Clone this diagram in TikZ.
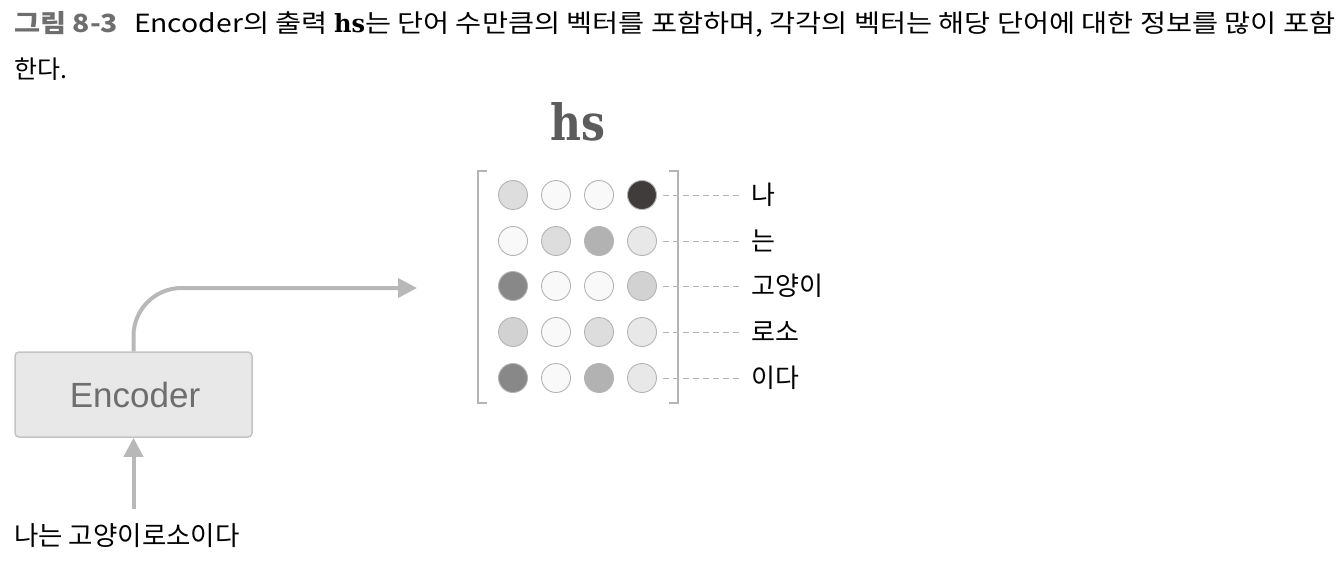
\documentclass[tikz,border=0pt]{standalone}
\usepackage{fontspec}
\usepackage{graphicx}
\newfontfamily\kr{Noto Sans CJK KR}
\newfontfamily\arialf{Liberation Sans}
\newfontfamily\hsf{DejaVu Serif}
\usetikzlibrary{arrows.meta}
\definecolor{arrowgray}{HTML}{B8B8B8}
\definecolor{capgray}{HTML}{6E6E6E}
\definecolor{hsgray}{HTML}{5C5C5C}
\definecolor{boxfill}{HTML}{E8E8E8}
\definecolor{boxline}{HTML}{C4C4C4}
\definecolor{dotline}{HTML}{B4B4B4}
\definecolor{cA}{HTML}{403C3C}
\definecolor{cB}{HTML}{888888}
\definecolor{cC}{HTML}{B2B2B2}
\definecolor{cD}{HTML}{D2D2D2}
\definecolor{cE}{HTML}{DDDDDD}
\definecolor{cF}{HTML}{E8E8E8}
\definecolor{cW}{HTML}{F9F9F9}
\tikzset{
  flow/.style={draw=arrowgray, line width=4pt, -{Triangle[width=19pt,length=19pt]}},
  dot/.style={circle, minimum size=29pt, inner sep=0pt, draw=dotline, line width=0.9pt},
  lab/.style={anchor=west, font=\kr\fontsize{26pt}{30pt}\selectfont, inner sep=0pt},
  guide/.style={draw=dotline, line width=1pt, dash pattern=on 6pt off 4pt},
  brack/.style={draw=dotline, line width=2.5pt},
  encbox/.style={draw=boxline, fill=boxfill, line width=1.5pt, rounded corners=4pt,
    minimum width=237pt, minimum height=85pt, font=\arialf\fontsize{35pt}{40pt}\selectfont, text=capgray}
}
\begin{document}
\begin{tikzpicture}[x=1pt,y=-1pt]
\useasboundingbox (0,0) rectangle (1342,562);
% caption
\node[anchor=base west, inner sep=0pt] (cap1) at (14,33)
  {\resizebox{1321pt}{\height}{\kr\fontsize{25pt}{28pt}\selectfont{\bfseries\color{capgray}그림 8-3}\hspace{14pt}Encoder의 출력 {\hsf\bfseries\scalebox{0.85}[1]{hs}}는 단어 수만큼의 벡터를 포함하며, 각각의 벡터는 해당 단어에 대한 정보를 많이 포함}};
\node[anchor=base west, inner sep=0pt, font=\kr\fontsize{25pt}{28pt}\selectfont] (cap2) at (14,78) {한다.};
% hs title
\node[anchor=base, inner sep=0pt, text=hsgray, font=\hsf\fontsize{50pt}{56pt}\selectfont\bfseries] (hs) at (578,140) {\scalebox{0.85}[1]{hs}};
% brackets
\draw[brack] (487,171) -- (478,171) -- (478,403) -- (487,403);
\draw[brack] (669,171) -- (678,171) -- (678,403) -- (669,403);
% dots
\foreach \r/\y/\a/\b/\c/\d/\w in {1/195/cE/cW/cW/cA/나, 2/241/cW/cE/cC/cF/는, 3/286/cB/cW/cW/cD/고양이, 4/332/cD/cW/cE/cF/로소, 5/378/cB/cW/cC/cF/이다}{
  \node[dot, fill=\a] (d\r a) at (513,\y) {};
  \node[dot, fill=\b] (d\r b) at (556,\y) {};
  \node[dot, fill=\c] (d\r c) at (599,\y) {};
  \node[dot, fill=\d] (d\r d) at (642,\y) {};
  \node[lab] (l\r) at (751,\y) {\w};
  \draw[guide] (d\r d.east) ++(6,0) -- ([xshift=-12pt]l\r.west);
}
% encoder
\node[encbox] (enc) at (133.5,394.5) {\hspace{3pt}Encoder};
\coordinate (outend) at (417,288);
\coordinate (inbeg) at (133.5,509);
\draw[flow, rounded corners=48pt] (enc.north) -- (133.5,288) -- (outend);
\draw[flow] (inbeg) -- (enc.south);
\node[anchor=west, inner sep=0pt, font=\kr\fontsize{26.5pt}{30pt}\selectfont] (input) at (14,536) {나는 고양이로소이다};
\end{tikzpicture}
\end{document}
